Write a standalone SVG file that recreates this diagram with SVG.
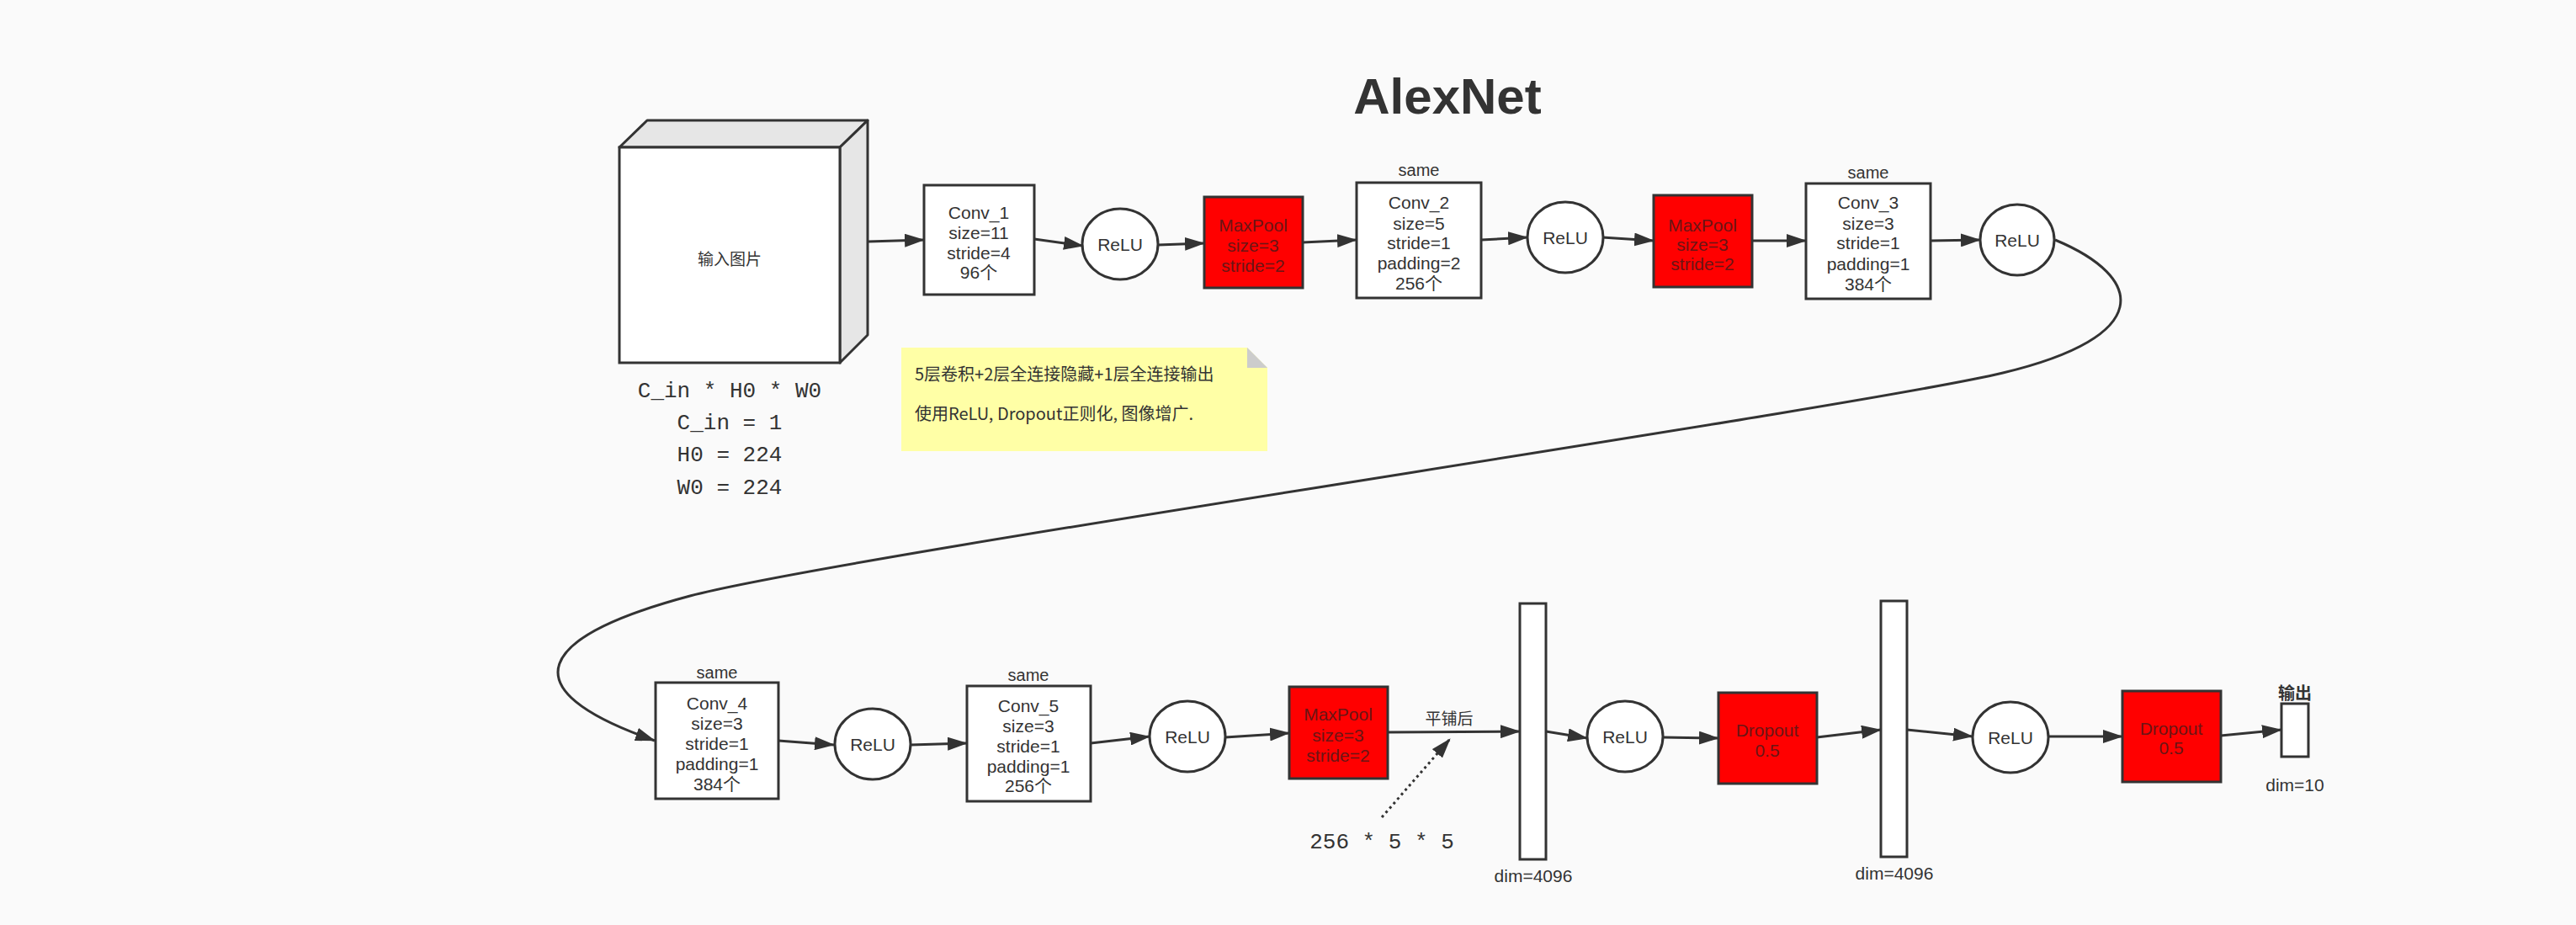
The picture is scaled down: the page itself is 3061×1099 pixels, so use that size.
<svg xmlns="http://www.w3.org/2000/svg" width="3061" height="1099" viewBox="0 0 3061 1099">
<style>
.bg{fill:#FAFAFA}
.box{fill:#FFFFFF;stroke:#333333;stroke-width:3}
.red{fill:#FF0000;stroke:#333333;stroke-width:3}
.side{fill:#E6E6E6;stroke:#333333;stroke-width:3;stroke-linejoin:round}
.t{font-family:"Liberation Sans","Noto Sans CJK SC",sans-serif;font-size:21px;fill:#333333;text-anchor:middle;dominant-baseline:central}
.tr{font-family:"Liberation Sans","Noto Sans CJK SC",sans-serif;font-size:21px;fill:#6a1515;text-anchor:middle;dominant-baseline:central}
.s{font-family:"Liberation Sans","Noto Sans CJK SC",sans-serif;font-size:20px;fill:#333333;text-anchor:middle;dominant-baseline:central}
.d{font-family:"Liberation Sans","Noto Sans CJK SC",sans-serif;font-size:21px;fill:#333333;text-anchor:middle;dominant-baseline:central}
.c{font-family:"Noto Sans CJK SC",sans-serif;font-size:19px;fill:#333333;text-anchor:middle;dominant-baseline:central}
.n{font-family:"Noto Sans CJK SC","Noto Sans",sans-serif;font-size:20px;fill:#333333;dominant-baseline:central}
.m{font-family:"Liberation Mono",monospace;font-size:26px;fill:#333333;text-anchor:middle}
.ln{fill:none;stroke:#333333;stroke-width:3;marker-end:url(#arr)}
.dot{fill:none;stroke:#333333;stroke-width:3;stroke-dasharray:3 4;marker-end:url(#arr)}
</style>
<defs>
<marker id="arr" markerUnits="userSpaceOnUse" markerWidth="24" markerHeight="16" refX="23" refY="8" orient="auto">
<path d="M0,0 L24,8 L0,16 Z" fill="#333333"/>
</marker>
</defs>
<rect class="bg" x="0" y="0" width="3061" height="1099"/>
<text x="1720" y="135" style="font-family:'Liberation Sans',Arial,sans-serif;font-size:60px;font-weight:bold;fill:#333333;text-anchor:middle">AlexNet</text>

<g id="input">
<polygon class="side" points="736,175 769,143 1031,143 998,175"/>
<polygon class="side" points="998,175 1031,143 1031,398 998,431"/>
<rect class="box" x="736" y="175" width="262" height="256"/>
<text class="c" x="867" y="306">输入图片</text>
<text class="m" x="867" y="472">C_in * H0 * W0</text>
<text class="m" x="867" y="510">C_in = 1</text>
<text class="m" x="867" y="548">H0 = 224</text>
<text class="m" x="867" y="587">W0 = 224</text>
</g>

<g id="note">
<polygon points="1071,413 1482,413 1506,437 1506,536 1071,536" fill="#FFFFA6"/>
<polygon points="1482,413 1506,437 1482,437" fill="#CCCCCC"/>
<text class="n" x="1087" y="443">5层卷积+2层全连接隐藏+1层全连接输出</text>
<text class="n" x="1087" y="490">使用ReLU, Dropout正则化, 图像增广.</text>
</g>

<g id="conv1">
<rect class="box" x="1098" y="220" width="131" height="130"/>
<text class="t" x="1163" y="252">Conv_1</text>
<text class="t" x="1163" y="276">size=11</text>
<text class="t" x="1163" y="300">stride=4</text>
<text class="t" x="1163" y="323">96个</text>
</g>
<g id="relu1">
<ellipse class="box" cx="1331" cy="290" rx="45" ry="42"/>
<text class="t" x="1331" y="290">ReLU</text>
</g>
<g id="maxpool1">
<rect class="red" x="1431" y="234" width="117" height="108"/>
<text class="tr" x="1489" y="267">MaxPool</text>
<text class="tr" x="1489" y="291">size=3</text>
<text class="tr" x="1489" y="315">stride=2</text>
</g>
<g id="conv2">
<text class="s" x="1686" y="202">same</text>
<rect class="box" x="1612" y="217" width="148" height="137"/>
<text class="t" x="1686" y="240">Conv_2</text>
<text class="t" x="1686" y="265">size=5</text>
<text class="t" x="1686" y="288">stride=1</text>
<text class="t" x="1686" y="312">padding=2</text>
<text class="t" x="1686" y="336">256个</text>
</g>
<g id="relu2">
<ellipse class="box" cx="1860" cy="282" rx="45" ry="42"/>
<text class="t" x="1860" y="282">ReLU</text>
</g>
<g id="maxpool2">
<rect class="red" x="1965" y="232" width="117" height="109"/>
<text class="tr" x="2023" y="267">MaxPool</text>
<text class="tr" x="2023" y="290">size=3</text>
<text class="tr" x="2023" y="313">stride=2</text>
</g>
<g id="conv3">
<text class="s" x="2220" y="205">same</text>
<rect class="box" x="2146" y="218" width="148" height="137"/>
<text class="t" x="2220" y="240">Conv_3</text>
<text class="t" x="2220" y="265">size=3</text>
<text class="t" x="2220" y="288">stride=1</text>
<text class="t" x="2220" y="313">padding=1</text>
<text class="t" x="2220" y="337">384个</text>
</g>
<g id="relu3">
<ellipse class="box" cx="2397" cy="285" rx="44" ry="42"/>
<text class="t" x="2397" y="285">ReLU</text>
</g>

<g id="conv4">
<text class="s" x="852" y="799">same</text>
<rect class="box" x="779" y="811" width="146" height="138"/>
<text class="t" x="852" y="835">Conv_4</text>
<text class="t" x="852" y="859">size=3</text>
<text class="t" x="852" y="883">stride=1</text>
<text class="t" x="852" y="907">padding=1</text>
<text class="t" x="852" y="931">384个</text>
</g>
<g id="relu4">
<ellipse class="box" cx="1037" cy="884" rx="45" ry="42"/>
<text class="t" x="1037" y="884">ReLU</text>
</g>
<g id="conv5">
<text class="s" x="1222" y="802">same</text>
<rect class="box" x="1149" y="815" width="147" height="137"/>
<text class="t" x="1222" y="838">Conv_5</text>
<text class="t" x="1222" y="862">size=3</text>
<text class="t" x="1222" y="886">stride=1</text>
<text class="t" x="1222" y="910">padding=1</text>
<text class="t" x="1222" y="933">256个</text>
</g>
<g id="relu5">
<ellipse class="box" cx="1411" cy="875" rx="45" ry="42"/>
<text class="t" x="1411" y="875">ReLU</text>
</g>
<g id="maxpool3">
<rect class="red" x="1532" y="816" width="117" height="109"/>
<text class="tr" x="1590" y="848">MaxPool</text>
<text class="tr" x="1590" y="873">size=3</text>
<text class="tr" x="1590" y="897">stride=2</text>
</g>
<g id="flatten-note">
<text class="m" x="1642" y="1008">256 * 5 * 5</text>
</g>
<g id="fc1">
<rect class="box" x="1806" y="717" width="31" height="304"/>
<text class="d" x="1822" y="1040">dim=4096</text>
</g>
<g id="relu6">
<ellipse class="box" cx="1931" cy="875" rx="45" ry="42"/>
<text class="t" x="1931" y="875">ReLU</text>
</g>
<g id="dropout1">
<rect class="red" x="2042" y="823" width="117" height="108"/>
<text class="tr" x="2100" y="867">Dropout</text>
<text class="tr" x="2100" y="891">0.5</text>
</g>
<g id="fc2">
<rect class="box" x="2235" y="714" width="31" height="304"/>
<text class="d" x="2251" y="1037">dim=4096</text>
</g>
<g id="relu7">
<ellipse class="box" cx="2389" cy="876" rx="45" ry="42"/>
<text class="t" x="2389" y="876">ReLU</text>
</g>
<g id="dropout2">
<rect class="red" x="2522" y="821" width="117" height="108"/>
<text class="tr" x="2580" y="865">Dropout</text>
<text class="tr" x="2580" y="888">0.5</text>
</g>
<g id="output">
<text class="c" x="2727" y="822" style="font-weight:bold;font-size:20px">输出</text>
<rect class="box" x="2711" y="836" width="32" height="63"/>
<text class="d" x="2727" y="932">dim=10</text>
</g>

<g id="connectors">
<path class="ln" d="M1032,287 L1098,285"/>
<path class="ln" d="M1229,284 L1287,292"/>
<path class="ln" d="M1376,291 L1431,289"/>
<path class="ln" d="M1548,288 L1612,285"/>
<path class="ln" d="M1760,285 L1815,282"/>
<path class="ln" d="M1904,282 L1965,286"/>
<path class="ln" d="M2082,286 L2146,286"/>
<path class="ln" d="M2294,286 L2353,285"/>
<path class="ln" d="M2442,285 C2550,330 2560,400 2380,443 C2200,486 1000,660 820,708 C640,756 600,818 778,880"/>
<path class="ln" d="M925,880 L991,885"/>
<path class="ln" d="M1082,885 L1149,883"/>
<path class="ln" d="M1296,883 L1366,875"/>
<path class="ln" d="M1456,876 L1532,871"/>
<path class="ln" d="M1649,870 L1806,869"/>
<text class="c" x="1722" y="852">平铺后</text>
<path class="dot" d="M1642,971 L1723,878"/>
<path class="ln" d="M1837,869 L1886,877"/>
<path class="ln" d="M1976,876 L2042,877"/>
<path class="ln" d="M2159,876 L2235,867"/>
<path class="ln" d="M2266,867 L2344,875"/>
<path class="ln" d="M2434,875 L2522,875"/>
<path class="ln" d="M2639,874 L2711,867"/>
</g>
</svg>
